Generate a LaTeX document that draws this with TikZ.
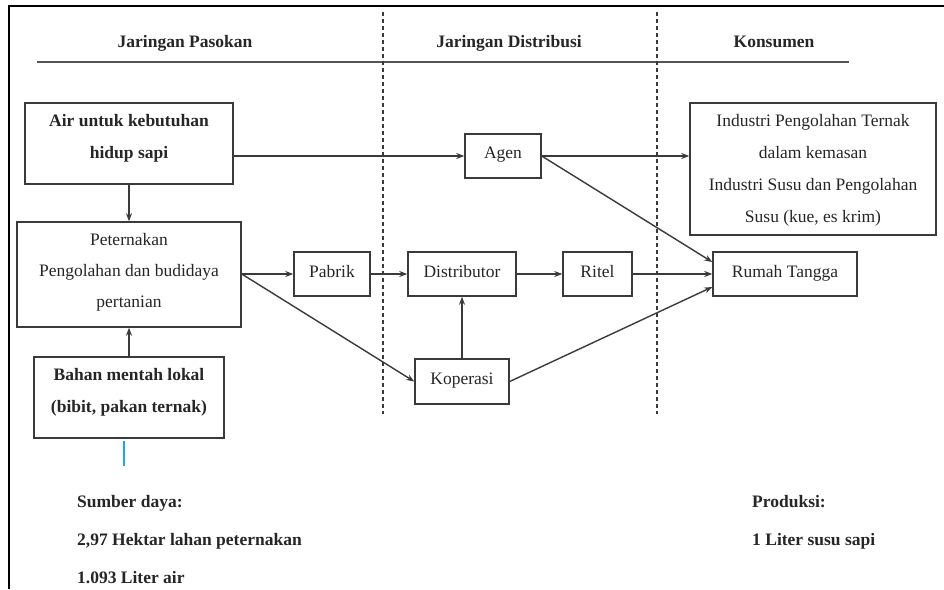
\documentclass[tikz,border=0pt]{standalone}
\usepackage{fontspec}
\setmainfont{Liberation Serif}
\usetikzlibrary{arrows.meta}
\definecolor{boxc}{HTML}{3A3A3A}
\definecolor{linec}{HTML}{555555}
\definecolor{bluec}{HTML}{1CA8E0}
\begin{document}
\begin{tikzpicture}[x=1pt,y=-1pt,
  box/.style 2 args={draw=boxc,line width=1.5pt,minimum width=#1,minimum height=#2,inner sep=0pt},
  txt/.style={font=\fontsize{17.5}{21}\selectfont,anchor=base,inner sep=0pt,text=black!85},
  txtb/.style={txt,font=\fontsize{17.5}{21}\selectfont\bfseries},
  arr/.style={draw=boxc,line width=1.4pt,-{Stealth[length=8pt,width=6pt]}},
  sep/.style={draw=boxc,line width=1.3pt,dash pattern=on 4pt off 3pt},
]
\useasboundingbox (0,0) rectangle (944,589);
\fill[white] (0,0) rectangle (944,589);
% frame
\draw[line width=2.2pt,black] (944,6) -- (9,6) -- (9,589);
% headers
\node[txtb] (h1) at (185,47) {Jaringan Pasokan};
\node[txtb] (h2) at (509,47) {Jaringan Distribusi};
\node[txtb] (h3) at (774,47) {Konsumen};
\draw[draw=linec,line width=1.6pt] (37,62) -- (849,62);
% separators
\draw[sep] (383,12) -- (383,414);
\draw[sep] (657,12) -- (657,414);
% boxes
\node[box={208pt}{81pt}] (air) at (129,143.5) {};
\node[box={224pt}{105pt}] (pet) at (129,274.5) {};
\node[box={190pt}{81pt}] (bahan) at (129,397.5) {};
\node[box={76pt}{44pt}] (pabrik) at (332,274) {};
\node[box={108pt}{44pt}] (dist) at (462,274) {};
\node[box={69pt}{44pt}] (ritel) at (597.5,274) {};
\node[box={76pt}{44pt}] (agen) at (503,156) {};
\node[box={94pt}{45pt}] (kop) at (462,381.5) {};
\node[box={246pt}{132pt}] (ind) at (813,169) {};
\node[box={144pt}{44pt}] (rt) at (785,274) {};
% box texts
\node[txtb] (air1) at (129,126) {Air untuk kebutuhan};
\node[txtb] (air2) at (129,158) {hidup sapi};
\node[txt] (pet1) at (129,245) {Peternakan};
\node[txt] (pet2) at (129,276) {Pengolahan dan budidaya};
\node[txt] (pet3) at (129,307) {pertanian};
\node[txtb] (bah1) at (129,380) {Bahan mentah lokal};
\node[txtb] (bah2) at (129,412) {(bibit, pakan ternak)};
\node[txt] (pabt) at (332,277) {Pabrik};
\node[txt] (distt) at (462,277) {Distributor};
\node[txt] (ritt) at (597.5,277) {Ritel};
\node[txt] (agent) at (503,158) {Agen};
\node[txt] (kopt) at (462,384) {Koperasi};
\node[txt] (ind1) at (813,126) {Industri Pengolahan Ternak};
\node[txt] (ind2) at (813,158) {dalam kemasan};
\node[txt] (ind3) at (813,190) {Industri Susu dan Pengolahan};
\node[txt] (ind4) at (813,222) {Susu (kue, es krim)};
\node[txt] (rtt) at (785,277) {Rumah Tangga};
% connectors
\draw[arr] (air.south) -- (pet.north);
\draw[arr] (bahan.north) -- (pet.south);
\draw[arr] (air.east |- agen.west) -- (agen.west);
\draw[arr] (agen.east) -- (agen.east -| ind.west);
\draw[arr] (agen.east) -- ([yshift=12pt]rt.west);
\draw[arr] (pet.east |- pabrik.west) -- (pabrik.west);
\draw[arr] (pet.east |- pabrik.west) -- (kop.west);
\draw[arr] (pabrik.east) -- (dist.west);
\draw[arr] (dist.east) -- (ritel.west);
\draw[arr] (ritel.east) -- (rt.west);
\draw[arr] (kop.north) -- (dist.south);
\draw[arr] (kop.east) -- ([yshift=-13pt]rt.west);
% blue mark
\coordinate (b1) at (124,441);
\coordinate (b2) at (124,466);
\draw[draw=bluec,line width=2pt] (b1) -- (b2);
% bottom texts
\node[txtb,anchor=base west] (s1) at (77,507) {Sumber daya:};
\node[txtb,anchor=base west] (s2) at (77,545) {2,97 Hektar lahan peternakan};
\node[txtb,anchor=base west] (s3) at (77,583) {1.093 Liter air};
\node[txtb,anchor=base west] (p1) at (752,507) {Produksi:};
\node[txtb,anchor=base west] (p2) at (752,545) {1 Liter susu sapi};
\end{tikzpicture}
\end{document}
